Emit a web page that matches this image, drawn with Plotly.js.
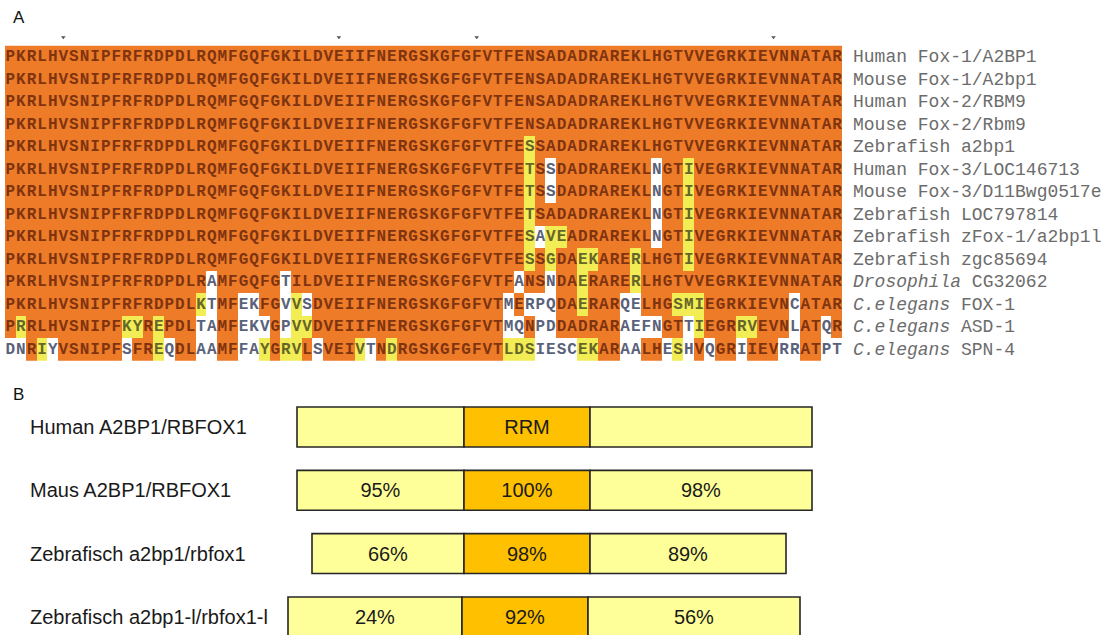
<!DOCTYPE html>
<html><head><meta charset="utf-8">
<script src="https://cdn.plot.ly/plotly-3.0.1.min.js"></script>
<style>html,body{margin:0;padding:0;background:#fff}#chart{width:1105px;height:635px}</style>
</head><body><div id="chart"></div>
<script>
// ---------- Panel A: RRM alignment ----------
const seqNames = [
  'Human Fox-1/A2BP1','Mouse Fox-1/A2bp1','Human Fox-2/RBM9','Mouse Fox-2/Rbm9',
  'Zebrafish a2bp1','Human Fox-3/LOC146713','Mouse Fox-3/D11Bwg0517e','Zebrafish LOC797814',
  'Zebrafish zFox-1/a2bp1l','Zebrafish zgc85694','<i>Drosophila</i> CG32062',
  '<i>C.elegans</i> FOX-1','<i>C.elegans</i> ASD-1','<i>C.elegans</i> SPN-4'
];
const sequences = [
  'PKRLHVSNIP FRFRDPDLRQ MFGQFGKILD VEIIFNERGS KGFGFVTFEN SADADRAREK LHGTVVEGRK IEVNNATAR',
  'PKRLHVSNIP FRFRDPDLRQ MFGQFGKILD VEIIFNERGS KGFGFVTFEN SADADRAREK LHGTVVEGRK IEVNNATAR',
  'PKRLHVSNIP FRFRDPDLRQ MFGQFGKILD VEIIFNERGS KGFGFVTFEN SADADRAREK LHGTVVEGRK IEVNNATAR',
  'PKRLHVSNIP FRFRDPDLRQ MFGQFGKILD VEIIFNERGS KGFGFVTFEN SADADRAREK LHGTVVEGRK IEVNNATAR',
  'PKRLHVSNIP FRFRDPDLRQ MFGQFGKILD VEIIFNERGS KGFGFVTFES SADADRAREK LHGTVVEGRK IEVNNATAR',
  'PKRLHVSNIP FRFRDPDLRQ MFGQFGKILD VEIIFNERGS KGFGFVTFET SSDADRAREK LNGTIVEGRK IEVNNATAR',
  'PKRLHVSNIP FRFRDPDLRQ MFGQFGKILD VEIIFNERGS KGFGFVTFET SSDADRAREK LNGTIVEGRK IEVNNATAR',
  'PKRLHVSNIP FRFRDPDLRQ MFGQFGKILD VEIIFNERGS KGFGFVTFET SADADRAREK LNGTIVEGRK IEVNNATAR',
  'PKRLHVSNIP FRFRDPDLRQ MFGQFGKILD VEIIFNERGS KGFGFVTFES AVEADRAREK LNGTIVEGRK IEVNNATAR',
  'PKRLHVSNIP FRFRDPDLRQ MFGQFGKILD VEIIFNERGS KGFGFVTFES SGDAEKARER LHGTIVEGRK IEVNNATAR',
  'PKRLHVSNIP FRFRDPDLRA MFGQFGTILD VEIIFNERGS KGFGFVTFAN SNDAERARER LHGTVVEGRK IEVNNATAR',
  'PKRLHVSNIP FRFRDPDLKT MFEKFGVVSD VEIIFNERGS KGFGFVTMER PQDAERARQE LHGSMIEGRK IEVNCATAR',
  'PRRLHVSNIP FKYREPDLTA MFEKVGPVVD VEIIFNERGS KGFGFVTMQN PDDADRARAE FNGTTIEGRR VEVNLATQR',
  'DNRIYVSNIP FSFREQDLAA MFFAYGRVLS VEIVTNDRGS KGFGFVTLDS IESCEKARAA LHESHVQGRI IEVRRATPT'
];
// O = identical (orange), Y = similar (yellow), W = different (white)
const shading = [
  'OOOOOOOOOO OOOOOOOOOO OOOOOOOOOO OOOOOOOOOO OOOOOOOOOO OOOOOOOOOO OOOOOOOOOO OOOOOOOOO',
  'OOOOOOOOOO OOOOOOOOOO OOOOOOOOOO OOOOOOOOOO OOOOOOOOOO OOOOOOOOOO OOOOOOOOOO OOOOOOOOO',
  'OOOOOOOOOO OOOOOOOOOO OOOOOOOOOO OOOOOOOOOO OOOOOOOOOO OOOOOOOOOO OOOOOOOOOO OOOOOOOOO',
  'OOOOOOOOOO OOOOOOOOOO OOOOOOOOOO OOOOOOOOOO OOOOOOOOOO OOOOOOOOOO OOOOOOOOOO OOOOOOOOO',
  'OOOOOOOOOO OOOOOOOOOO OOOOOOOOOO OOOOOOOOOO OOOOOOOOOY OOOOOOOOOO OOOOOOOOOO OOOOOOOOO',
  'OOOOOOOOOO OOOOOOOOOO OOOOOOOOOO OOOOOOOOOO OOOOOOOOOY OWOOOOOOOO OWOOYOOOOO OOOOOOOOO',
  'OOOOOOOOOO OOOOOOOOOO OOOOOOOOOO OOOOOOOOOO OOOOOOOOOY OWOOOOOOOO OWOOYOOOOO OOOOOOOOO',
  'OOOOOOOOOO OOOOOOOOOO OOOOOOOOOO OOOOOOOOOO OOOOOOOOOY OOOOOOOOOO OWOOYOOOOO OOOOOOOOO',
  'OOOOOOOOOO OOOOOOOOOO OOOOOOOOOO OOOOOOOOOO OOOOOOOOOY WYYOOOOOOO OWOOYOOOOO OOOOOOOOO',
  'OOOOOOOOOO OOOOOOOOOO OOOOOOOOOO OOOOOOOOOO OOOOOOOOOY OYOOYYOOOY OOOOYOOOOO OOOOOOOOO',
  'OOOOOOOOOO OOOOOOOOOW OOOOOOWOOO OOOOOOOOOO OOOOOOOOWO OWOOYOOOOY OOOOOOOOOO OOOOOOOOO',
  'OOOOOOOOOO OOOOOOOOYW OOWWOOWYWO OOOOOOOOOO OOOOOOOWOW WWOOYOOOWW OOOYYYOOOO OOOOWOOOO',
  'OYOOOOOOOO OYYOYOOOWW OOWWWOWYYO OOOOOOOOOO OOOOOOOWWO WWOOOOOOWW WWOOWYOOOY YOOOWOOWO',
  'WWOYWOOOOO OWOOYWOOWW OOWWYOYYOW OOOYWOYOOO OOOOOOOYYY WWWWYYOOWW OOWYWOWOOW OOOWWOOWW'
];
const rulerMarks = [6, 32, 45, 73];

// ---------- Panel B: domain structure ----------
const domainSpecies = ['Human A2BP1/RBFOX1','Maus A2BP1/RBFOX1','Zebrafisch a2bp1/rbfox1','Zebrafisch a2bp1-l/rbfox1-l'];
const nTermStart = [-167, -167, -152, -176];
const rrmStart   = [0, 0, 0, -2];
const rrmEnd     = [126, 126, 126, 124];
const cTermEnd   = [348, 348, 322, 336];
const nTermIdentity = ['', '95%', '66%', '24%'];
const rrmIdentity   = ['RRM', '100%', '98%', '92%'];
const cTermIdentity = ['', '98%', '89%', '56%'];

// ---------- build ----------
const seqs = sequences.map(s => s.replace(/ /g, ''));
const shades = shading.map(s => s.replace(/ /g, ''));
const classVal = {W: 0, Y: 1, O: 2};
const letterCol = {O: '#7f3410', Y: '#66662a', W: '#59627a'};
const nCol = seqs[0].length;
const cols = Array.from({length: nCol}, (_, i) => i + 1);
const rows = seqs.map((_, i) => i + 1);
const z = shades.map(s => s.split('').map(c => classVal[c]));

const lx = [], ly = [], lt = [], lc = [];
seqs.forEach((s, r) => {
  s.split('').forEach((ch, c) => {
    lx.push(c + 1); ly.push(r + 1); lt.push(ch); lc.push(letterCol[shades[r][c]]);
  });
});

const traces = [
  {type: 'heatmap', x: cols, y: rows, z: z, zmin: 0, zmax: 2, showscale: false,
   colorscale: [[0, '#ffffff'], [0.5, '#f3ed55'], [1, '#ee7b28']],
   hoverinfo: 'skip', xaxis: 'x', yaxis: 'y'},
  {type: 'scatter', mode: 'text', x: lx, y: ly, text: lt,
   textfont: {family: 'Liberation Mono, DejaVu Sans Mono, monospace', size: 16, weight: 'bold', color: lc},
   textposition: 'middle center', hoverinfo: 'skip', xaxis: 'x', yaxis: 'y'},
  {type: 'scatter', mode: 'markers', x: rulerMarks, y: rulerMarks.map(() => 0.12),
   marker: {symbol: 'triangle-down', size: 4, color: '#555'}, hoverinfo: 'skip', xaxis: 'x', yaxis: 'y'}
];

const bIdx = domainSpecies.map((_, i) => i);
const barCommon = {type: 'bar', orientation: 'h', y: bIdx, width: 0.63, xaxis: 'x2', yaxis: 'y2',
  textposition: 'inside', insidetextanchor: 'middle', constraintext: 'none', textangle: 0,
  textfont: {family: 'Liberation Sans, Arial, sans-serif', size: 20, color: '#1a1a1a'},
  hoverinfo: 'skip'};
traces.push(Object.assign({}, barCommon, {
  base: nTermStart, x: rrmStart.map((v, i) => v - nTermStart[i]), text: nTermIdentity,
  marker: {color: '#ffff99', line: {color: '#262626', width: 1.6}}}));
traces.push(Object.assign({}, barCommon, {
  base: rrmStart, x: rrmEnd.map((v, i) => v - rrmStart[i]), text: rrmIdentity,
  marker: {color: '#ffc000', line: {color: '#262626', width: 1.6}}}));
traces.push(Object.assign({}, barCommon, {
  base: rrmEnd, x: cTermEnd.map((v, i) => v - rrmEnd[i]), text: cTermIdentity,
  marker: {color: '#ffff99', line: {color: '#262626', width: 1.6}}}));

const annotations = [];
seqNames.forEach((n, i) => annotations.push({
  text: n, xref: 'x', yref: 'y', x: 80.3, y: i + 1, xanchor: 'left', yanchor: 'middle', showarrow: false,
  font: {family: 'Liberation Mono, DejaVu Sans Mono, monospace', size: 18, color: '#6c6c6c'}}));
domainSpecies.forEach((n, i) => annotations.push({
  text: n, xref: 'paper', yref: 'y2', x: 28 / 1105, y: i, xanchor: 'left', yanchor: 'middle', showarrow: false,
  font: {family: 'Liberation Sans, Arial, sans-serif', size: 20, color: '#1a1a1a'}}));
annotations.push({text: 'A', xref: 'paper', yref: 'paper', x: 11 / 1105, y: 1 - 18 / 635, xanchor: 'left', yanchor: 'middle',
  showarrow: false, font: {family: 'Liberation Sans, Arial, sans-serif', size: 17, color: '#111'}});
annotations.push({text: 'B', xref: 'paper', yref: 'paper', x: 11 / 1105, y: 1 - 394 / 635, xanchor: 'left', yanchor: 'middle',
  showarrow: false, font: {family: 'Liberation Sans, Arial, sans-serif', size: 17, color: '#111'}});

const W = 1105, H = 635;
const colW = 10.6, colLeft = 5, rowH = 22.5, row1 = 57;
const u = px => (px - colLeft) / colW + 0.5;
const r = px => (px - row1) / rowH + 1;
const k0 = 427, kStep = 63.3, rrmPx = 464;

const hidden = {visible: false, fixedrange: true, showgrid: false, zeroline: false};
const layout = {
  width: W, height: H, margin: {l: 0, r: 0, t: 0, b: 0},
  paper_bgcolor: '#ffffff', plot_bgcolor: 'rgba(0,0,0,0)',
  showlegend: false, barmode: 'overlay',
  xaxis: Object.assign({}, hidden, {domain: [0, 1], range: [u(0), u(W)], anchor: 'y'}),
  yaxis: Object.assign({}, hidden, {domain: [0, 1], range: [r(H), r(0)], anchor: 'x'}),
  xaxis2: Object.assign({}, hidden, {domain: [0, 1], range: [-rrmPx, W - rrmPx], anchor: 'y2'}),
  yaxis2: Object.assign({}, hidden, {domain: [0, 1], range: [(H - k0) / kStep, -k0 / kStep], anchor: 'x2'}),
  annotations: annotations
};
Plotly.newPlot('chart', traces, layout, {staticPlot: true, displayModeBar: false});
</script>
</body></html>
